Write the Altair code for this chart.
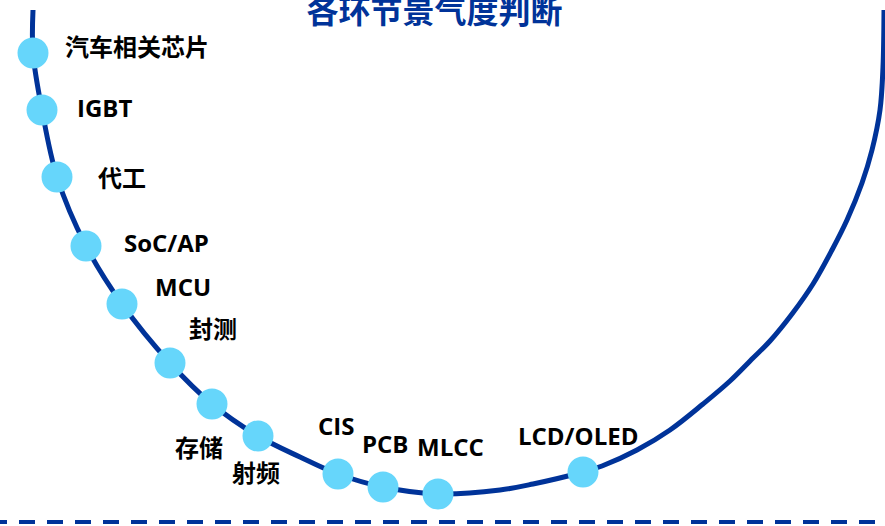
import altair as alt
import pandas as pd

# ---- data ----
title_text = "各环节景气度判断"

segments = ["汽车相关芯片", "IGBT", "代工", "SoC/AP", "MCU", "封测",
            "存储", "射频", "CIS", "PCB", "MLCC", "LCD/OLED"]
seg_x = [33, 42, 57, 86, 122, 170, 212, 258, 338, 383, 438, 583]
seg_y = [53, 110, 177, 246, 304, 363, 404, 436, 474, 487, 494, 472]

label_x = [65, 77, 98, 124, 155, 189, 175, 232, 318, 362, 417, 518]
label_y = [49, 110, 180, 245, 289, 331, 450, 475, 428, 446, 449, 438]

curve_x = [33, 33, 42, 57, 86, 122, 170, 212, 258, 300, 338, 383, 438,
           500, 533, 583, 602, 637, 670, 703, 730, 753, 770, 792, 813,
           832, 847, 862, 872, 880, 883, 884]
curve_y = [10, 53, 110, 177, 246, 304, 363, 404, 436, 457, 474, 487, 494,
           490, 484, 472, 466, 450, 430, 404, 381, 358, 341, 314, 284,
           250, 220, 183, 150, 110, 67, 10]

baseline_y = [522]

# ---- tables ----
points = pd.DataFrame({"环节": segments, "x": seg_x, "y": seg_y})
labels = pd.DataFrame({"环节": segments, "x": label_x, "y": label_y})
curve = pd.DataFrame({"order": list(range(len(curve_x))), "x": curve_x, "y": curve_y})
base = pd.DataFrame({"y": baseline_y})

W, H = 885, 526
xs = alt.Scale(domain=[0, W], nice=False, zero=False)
ys = alt.Scale(domain=[0, H], nice=False, zero=False, reverse=True)

DARK = "#003399"
LIGHT = "#66D6FB"
FONT = "Open Sans, Noto Sans CJK SC, sans-serif"

line = alt.Chart(curve).mark_line(
    color=DARK, strokeWidth=5, interpolate="catmull-rom", clip=False
).encode(
    x=alt.X("x:Q", scale=xs, axis=None),
    y=alt.Y("y:Q", scale=ys, axis=None),
    order="order:Q",
)

dash = alt.Chart(base).mark_rule(
    color=DARK, strokeWidth=4, strokeDash=[16, 12], strokeDashOffset=18
).encode(y=alt.Y("y:Q", scale=ys, axis=None))

dots = alt.Chart(points).mark_circle(
    size=960, color=LIGHT, opacity=1
).encode(
    x=alt.X("x:Q", scale=xs, axis=None),
    y=alt.Y("y:Q", scale=ys, axis=None),
)

texts = alt.Chart(labels).mark_text(
    align="left", baseline="middle", fontSize=24, fontWeight="bold",
    font=FONT, color="#000000"
).encode(
    x=alt.X("x:Q", scale=xs, axis=None),
    y=alt.Y("y:Q", scale=ys, axis=None),
    text="环节:N",
)

chart = alt.layer(dash, line, dots, texts).properties(
    width=W, height=H, autosize="none", padding=0,
    background="#FFFFFF",
    title=alt.TitleParams(
        text=title_text, fontSize=32, fontWeight="bold",
        font="Noto Sans CJK SC, sans-serif", color=DARK,
        anchor="middle", offset=-30, dx=-8,
    ),
).configure_view(stroke=None)

chart.save("out.html", embed_options={"renderer": "svg", "actions": False})
